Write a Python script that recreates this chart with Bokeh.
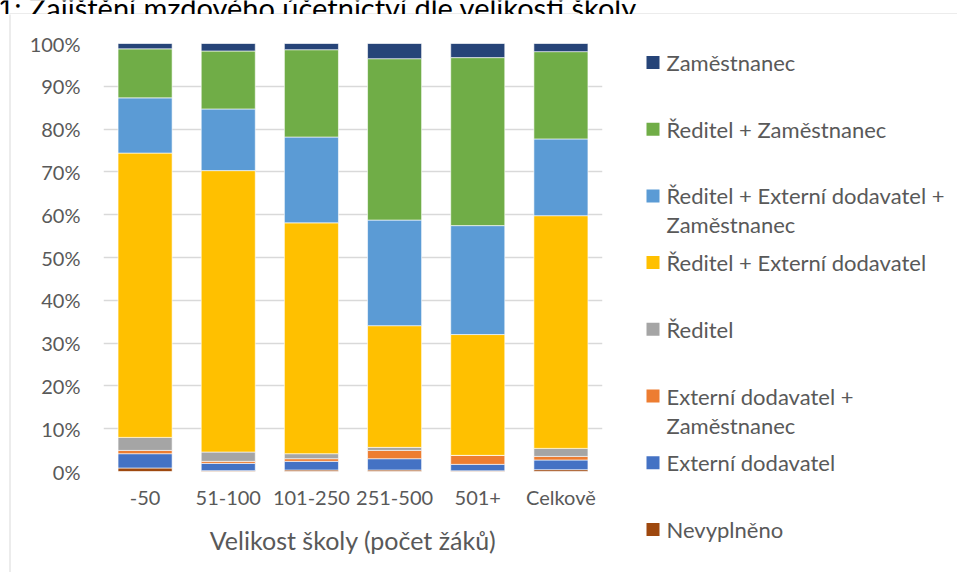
from bokeh.plotting import figure
from bokeh.layouts import column, row
from bokeh.models import ColumnDataSource, Range1d, FactorRange, NumeralTickFormatter, FixedTicker
from bokeh.core.properties import value
from bokeh.embed import file_html
from bokeh.resources import INLINE

# ---------------- data (percent) ----------------
categories = ["-50", "51-100", "101-250", "251-500", "501+", "Celkově"]

series_names = [
    "Nevyplněno",
    "Externí dodavatel",
    "Externí dodavatel + Zaměstnanec",
    "Ředitel",
    "Ředitel + Externí dodavatel",
    "Ředitel + Externí dodavatel + Zaměstnanec",
    "Ředitel + Zaměstnanec",
    "Zaměstnanec",
]

nevyplneno = [0.82, 0.20, 0.35, 0.35, 0.15, 0.42]
externi_dodavatel = [3.34, 1.70, 2.02, 2.64, 1.52, 2.27]
externi_zamestnanec = [0.77, 0.47, 0.62, 1.94, 2.10, 0.84]
reditel = [3.04, 2.18, 1.17, 0.71, 0.00, 1.87]
reditel_externi = [66.43, 65.75, 53.94, 28.43, 28.23, 54.37]
reditel_externi_zamestnanec = [12.90, 14.40, 20.05, 24.68, 25.45, 17.93]
reditel_zamestnanec = [11.45, 13.55, 20.40, 37.70, 39.25, 20.40]
zamestnanec = [1.25, 1.75, 1.45, 3.55, 3.30, 1.90]

series_values = [nevyplneno, externi_dodavatel, externi_zamestnanec, reditel,
                 reditel_externi, reditel_externi_zamestnanec, reditel_zamestnanec, zamestnanec]

legend_lines = [
    ["Nevyplněno"],
    ["Externí dodavatel"],
    ["Externí dodavatel +", "Zaměstnanec"],
    ["Ředitel"],
    ["Ředitel + Externí dodavatel"],
    ["Ředitel + Externí dodavatel +", "Zaměstnanec"],
    ["Ředitel + Zaměstnanec"],
    ["Zaměstnanec"],
]

colors = ["#9E480E", "#4472C4", "#ED7D31", "#A5A5A5", "#FFC000", "#5B9BD5", "#70AD47", "#264478"]

y_ticks = [i / 10 for i in range(11)]

title_text = "1: Zajištění mzdového účetnictví dle velikosti školy"
x_title = "Velikost školy (počet žáků)"

# ---------------- layout constants (page pixels) ----------------
FONT = "Lato"
TEXT = "#595959"
BORDER = "#D9D9D9"
W, H = 957, 572
TOP_H = 14          # height of the strip that holds the clipped title
STRIP_W = 12        # left strip that holds the chart border
MAIN_R = 615        # right edge of main figure
FL, FR, FT, FB = 103, 602, 43, 471   # plot frame
ROW_H = H - TOP_H


def no_align(f):
    try:
        f.frame_align = False
    except Exception:
        pass
    return f


def blank(width, height, x0, x1, y0, y1):
    f = figure(width=width, height=height, x_range=Range1d(x0, x1), y_range=Range1d(y1, y0),
               x_axis_type=None, y_axis_type=None, output_backend="svg", toolbar_location=None,
               min_border=0, min_border_left=0, min_border_right=0, min_border_top=0, min_border_bottom=0)
    f.outline_line_color = None
    f.grid.visible = False
    f.background_fill_color = "white"
    f.border_fill_color = "white"
    return no_align(f)


# ---- top strip: title (clipped by the page edge) + border top line ----
top = blank(W, TOP_H, 0, W, 0, TOP_H)
top.segment(x0=[9], y0=[TOP_H - 0.5], x1=[W], y1=[TOP_H - 0.5], line_color=BORDER, line_width=1)
top.text(x=[-3], y=[7], text=[title_text], text_font=value(FONT), text_font_size="29px",
         text_color="#000000", text_baseline="alphabetic", text_align="left")

# ---- left strip: border left line ----
left = blank(STRIP_W, ROW_H, 0, STRIP_W, TOP_H, H)
left.segment(x0=[9.5], y0=[TOP_H - 1], x1=[9.5], y1=[H], line_color=BORDER, line_width=1)

# ---- main chart ----
keys = ["s%d" % i for i in range(len(series_names))]
data = {"cat": categories}
for k, vals in zip(keys, series_values):
    data[k] = [v / 100.0 for v in vals]
source = ColumnDataSource(data)

p = figure(
    x_range=FactorRange(factors=categories, range_padding=0),
    y_range=Range1d(0, 1),
    width=MAIN_R - STRIP_W, height=ROW_H,
    output_backend="svg", toolbar_location=None,
    min_border_left=FL - STRIP_W, min_border_right=MAIN_R - FR,
    min_border_top=FT - TOP_H, min_border_bottom=H - FB,
)
no_align(p)
p.outline_line_color = None
p.background_fill_color = "white"
p.border_fill_color = "white"

p.vbar_stack(keys, x="cat", width=0.65, color=colors, source=source,
             line_color="white", line_width=0.6)

p.xgrid.grid_line_color = None
p.ygrid.grid_line_color = BORDER
p.ygrid.grid_line_width = 1.5
p.ygrid.level = "underlay"

p.yaxis.ticker = FixedTicker(ticks=y_ticks)
p.yaxis.formatter = NumeralTickFormatter(format="0%")
for ax in (p.xaxis[0], p.yaxis[0]):
    ax.axis_line_color = None
    ax.major_tick_line_color = None
    ax.minor_tick_line_color = None
    ax.major_tick_out = 0
    ax.major_tick_in = 0
    ax.minor_tick_out = 0
    ax.major_label_text_font = FONT
    ax.major_label_text_font_size = "20px"
    ax.major_label_text_color = TEXT
p.yaxis.major_label_standoff = 23
p.xaxis.major_label_standoff = 13
p.xaxis.axis_label = x_title
p.xaxis.axis_label_text_font = FONT
p.xaxis.axis_label_text_font_size = "25px"
p.xaxis.axis_label_text_font_style = "normal"
p.xaxis.axis_label_text_color = TEXT
p.xaxis.axis_label_standoff = 13

# ---- legend figure ----
lg = blank(W - MAIN_R, ROW_H, MAIN_R, W, TOP_H, H)
n = len(series_names)
sq_x, sq_y, sq_c = [], [], []
tx, ty, tt = [], [], []
for j in range(n):
    i = n - 1 - j
    yc = 62 + j * 66.7
    sq_x.append(652.5)
    sq_y.append(yc)
    sq_c.append(colors[i])
    for k, line in enumerate(legend_lines[i]):
        tx.append(666)
        ty.append(yc + k * 29)
        tt.append(line)
lg.rect(x=sq_x, y=sq_y, width=13, height=13, fill_color=sq_c, line_color=None)
lg.text(x=tx, y=ty, text=tt, text_font=value(FONT), text_font_size="22px",
        text_color=TEXT, text_baseline="middle", text_align="left")

layout = column(top, row(column(left), column(p), column(lg), spacing=0), spacing=0)

open("out.html", "w").write(file_html(layout, INLINE))
